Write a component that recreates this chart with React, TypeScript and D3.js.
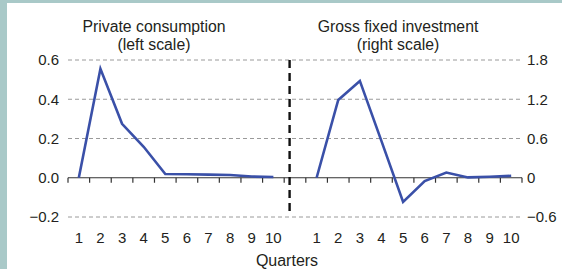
import * as React from "react";
import * as d3 from "d3";

// Data
const quarters = [1, 2, 3, 4, 5, 6, 7, 8, 9, 10];
const privateConsumption = [0, 0.555, 0.275, 0.158, 0.019, 0.018, 0.016, 0.014, 0.006, 0.004];
const grossFixedInvestment = [0, 1.19, 1.48, 0.56, -0.37, -0.05, 0.08, 0.005, 0.015, 0.03];
const leftTicks = [-0.2, 0, 0.2, 0.4, 0.6];
const rightTicks = [-0.6, 0, 0.6, 1.2, 1.8];

const width = 562;
const height = 269;
const margin = { top: 60, right: 40, bottom: 52, left: 68 };

const fmtLeft = (v: number) => (v < 0 ? "\u2212" : "") + Math.abs(v).toFixed(1);
const fmtRight = (v: number) => (v === 0 ? "0" : (v < 0 ? "\u2212" : "") + Math.abs(v).toFixed(1));

function App() {
  const boundedWidth = width - margin.left - margin.right;
  const plotBottom = height - margin.bottom;

  // 21 slots: 10 left quarters, one gap, 10 right quarters
  const xScale = d3
    .scaleBand<number>()
    .domain(d3.range(21))
    .range([margin.left, margin.left + boundedWidth]);
  const bw = xScale.bandwidth();
  const xCenter = (i: number) => (xScale(i) as number) + bw / 2;

  const yLeft = d3.scaleLinear().domain([-0.2, 0.6]).range([plotBottom, margin.top]);
  const yRight = d3.scaleLinear().domain([-0.6, 1.8]).range([plotBottom, margin.top]);

  const leftLine = d3
    .line<number>()
    .x((_, i) => xCenter(i))
    .y((d) => yLeft(d));
  const rightLine = d3
    .line<number>()
    .x((_, i) => xCenter(i + 11))
    .y((d) => yRight(d));

  const x0 = margin.left;
  const x1 = margin.left + boundedWidth;
  const zeroY = yLeft(0);
  const dividerX = (xScale(10) as number) + bw * 0.25;
  const leftTitleX = 154;
  const rightTitleX = 398;
  const textColor = "#231f20";

  return (
    <svg
      width={width}
      height={height}
      style={{ position: "absolute", left: 0, top: 0, display: "block" }}
      fontFamily="'Liberation Sans', Arial, sans-serif"
    >
      <rect x={0} y={0} width={width} height={height} fill="#a9c9c8" />
      <rect x={7} y={3} width={width - 7} height={height - 3} fill="#ffffff" />

      {/* gridlines */}
      {leftTicks
        .filter((t) => t !== 0)
        .map((t) => (
          <line
            key={t}
            x1={x0}
            x2={x1 - 2}
            y1={yLeft(t)}
            y2={yLeft(t)}
            stroke="#9a9a9a"
            strokeWidth={1}
            strokeDasharray="4 3"
          />
        ))}

      {/* zero axis with ticks */}
      <line x1={x0} x2={x1} y1={zeroY} y2={zeroY} stroke="#333" strokeWidth={1.2} />
      {d3.range(22).map((i) => {
        const x = i < 21 ? (xScale(i) as number) : x1;
        return <line key={i} x1={x} x2={x} y1={zeroY} y2={zeroY + 5} stroke="#333" strokeWidth={1.2} />;
      })}

      {/* divider */}
      <line
        x1={dividerX}
        x2={dividerX}
        y1={margin.top}
        y2={plotBottom - 2}
        stroke="#111"
        strokeWidth={2.4}
        strokeDasharray="8 5"
      />

      {/* series */}
      <path d={leftLine(privateConsumption) ?? ""} fill="none" stroke="#3a50a8" strokeWidth={2.6} strokeLinejoin="miter" />
      <path d={rightLine(grossFixedInvestment) ?? ""} fill="none" stroke="#3a50a8" strokeWidth={2.6} strokeLinejoin="miter" />

      {/* y labels */}
      <g fontSize={15} fill={textColor}>
        {leftTicks.map((t) => (
          <text key={t} x={59} y={yLeft(t)} dy="0.35em" textAnchor="end">
            {fmtLeft(t)}
          </text>
        ))}
        {rightTicks.map((t) => (
          <text key={t} x={527} y={yRight(t)} dy="0.35em" textAnchor="start">
            {fmtRight(t)}
          </text>
        ))}
      </g>

      {/* x labels */}
      <g fontSize={15} fill={textColor} textAnchor="middle">
        {quarters.map((q, i) => (
          <text key={"l" + q} x={xCenter(i)} y={243}>
            {q}
          </text>
        ))}
        {quarters.map((q, i) => (
          <text key={"r" + q} x={xCenter(i + 11)} y={243}>
            {q}
          </text>
        ))}
        <text x={287} y={266} fontSize={16}>Quarters</text>
      </g>

      {/* titles */}
      <g fontSize={15.8} fill={textColor} textAnchor="middle">
        <text x={leftTitleX} y={32}>Private consumption</text>
        <text x={leftTitleX} y={50}>(left scale)</text>
        <text x={rightTitleX} y={32}>Gross fixed investment</text>
        <text x={rightTitleX} y={50}>(right scale)</text>
      </g>
    </svg>
  );
}

export default App;
